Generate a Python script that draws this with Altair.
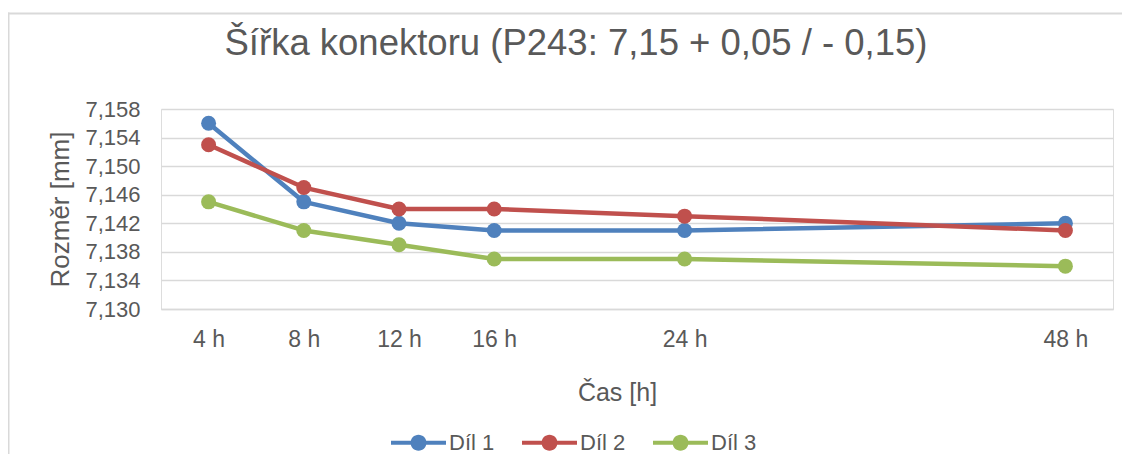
import math
import altair as alt
import pandas as pd

# ---- data ----
hours = ["4 h", "8 h", "12 h", "16 h", "24 h", "48 h"]
x_pos = [1, 2, 3, 4, 6, 10]          # positions on the (date-like) category axis
series = ["Díl 1", "Díl 2", "Díl 3"]
dil1 = [7.156, 7.145, 7.142, 7.141, 7.141, 7.142]
dil2 = [7.153, 7.147, 7.144, 7.144, 7.143, 7.141]
dil3 = [7.145, 7.141, 7.139, 7.137, 7.137, 7.136]
y_ticks = [7.130, 7.134, 7.138, 7.142, 7.146, 7.150, 7.154, 7.158]
colors = ["#4F81BD", "#C0504D", "#9BBB59"]

rows = []
for name, vals in zip(series, [dil1, dil2, dil3]):
    for h, p, v in zip(hours, x_pos, vals):
        rows.append({"serie": name, "linie": name, "cas": h, "pos": p, "rozmer": v})
df = pd.DataFrame(rows)

FONT = "Liberation Sans"
TXT = "#595959"
GRID = "#D9D9D9"

label_expr = " : ".join(f"datum.value == {p} ? '{h}'" for p, h in zip(x_pos, hours)) + " : ''"

# legend glyph: short line with a dot in the middle (unit box -1..1)
_r = 0.29
_poly = " ".join(
    f"{'M' if i == 0 else 'L'}{_r * math.cos(2 * math.pi * i / 32):.4f},{_r * math.sin(2 * math.pi * i / 32):.4f}"
    for i in range(32)
)
legend_path = "M-1,-0.075L1,-0.075L1,0.075L-1,0.075Z " + _poly + "Z"

x_enc = alt.X(
    "pos:Q",
    scale=alt.Scale(domain=[0.5, 10.5], nice=False, zero=False),
    axis=alt.Axis(
        values=x_pos, labelExpr=label_expr, grid=False, ticks=False,
        domain=True, domainColor=GRID, domainWidth=1.3,
        labelFont=FONT, labelFontSize=23, labelColor=TXT, labelPadding=19,
        title="Čas [h]", titleFont=FONT, titleFontSize=25, titleFontWeight="normal",
        titleColor=TXT, titleX=456, titleY=91, titleBaseline="alphabetic",
        titleAlign="center",
    ),
)
y_enc = alt.Y(
    "rozmer:Q",
    scale=alt.Scale(domain=[7.130, 7.158], nice=False, zero=False),
    axis=alt.Axis(
        values=y_ticks, labelExpr="replace(format(datum.value, '.3f'), '.', ',')",
        grid=True, gridColor=GRID, gridWidth=1.3, ticks=False, domain=False,
        labelFont=FONT, labelFontSize=22, labelColor=TXT, labelPadding=21,
        title="Rozměr [mm]", titleFont=FONT, titleFontSize=26, titleFontWeight="normal",
        titleColor=TXT, titleX=-93, titleY=100, titleBaseline="alphabetic",
        titleAlign="center", titleAngle=270,
    ),
)

base = alt.Chart(df)

# line colours: own scale (data-driven domain, same sorted order) so its
# disabled legend is not merged with the marker legend
lines = base.mark_line(strokeWidth=4.5, strokeCap="round", strokeJoin="round").encode(
    x=x_enc, y=y_enc,
    stroke=alt.Stroke("linie:N", scale=alt.Scale(range=colors), legend=None),
)
points = base.mark_circle(size=225, opacity=1).encode(
    x=x_enc, y=y_enc,
    color=alt.Color(
        "serie:N", scale=alt.Scale(domain=series, range=colors),
        legend=alt.Legend(
            orient="none", legendX=230, legendY=306, direction="horizontal",
            title=None, symbolType=legend_path, symbolSize=3025,
            symbolStrokeWidth=0,
            labelFont=FONT, labelFontSize=22, labelColor=TXT, labelOffset=3,
            columnPadding=27,
        ),
    ),
)

frame_df = pd.DataFrame({"b": [0]})
border_top = alt.Chart(frame_df).mark_rule(stroke=GRID, strokeWidth=2).encode(
    x=alt.value(-153), x2=alt.value(961), y=alt.value(-95.5)
)
border_left = alt.Chart(frame_df).mark_rule(stroke=GRID, strokeWidth=2).encode(
    x=alt.value(-152.5), y=alt.value(-96.5), y2=alt.value(345)
)

chart = alt.layer(border_top, border_left, lines, points).properties(
    width=952,
    height=200,
    title=alt.TitleParams(
        text="Šířka konektoru (P243: 7,15 + 0,05 / - 0,15)",
        font=FONT, fontSize=36.5, fontWeight="normal", color=TXT,
        anchor="middle", frame="group", dx=-61, baseline="alphabetic", offset=0, dy=80,
    ),
    autosize="none",
    padding={"left": 153, "top": 101, "right": 9, "bottom": 145},
).configure_view(stroke=None).configure(background="white")

chart.save("out.html", embed_options={"renderer": "svg", "actions": False})
